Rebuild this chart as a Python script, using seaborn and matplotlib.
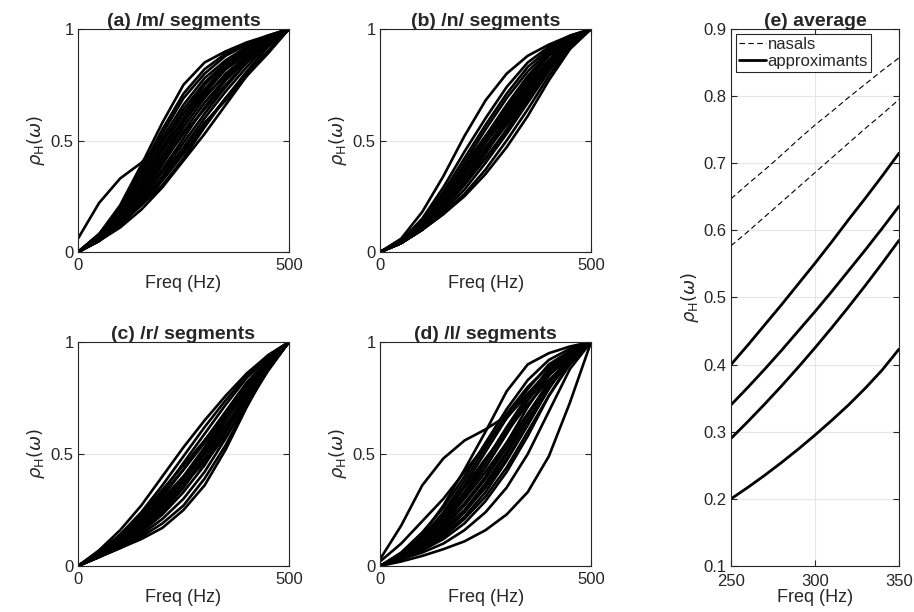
import pandas as pd
import seaborn as sns
import matplotlib.pyplot as plt
from matplotlib.lines import Line2D

# sample frequencies for the segment curves (Hz)
freq = [0, 50, 100, 150, 200, 250, 300, 350, 400, 450, 500]

m_curves = [
    [0.06, 0.22, 0.33, 0.40, 0.50, 0.62, 0.73, 0.82, 0.89, 0.95, 1.0],
    [0.0, 0.08, 0.21, 0.39, 0.58, 0.75, 0.85, 0.90, 0.94, 0.97, 1.0],
    [0.0, 0.08, 0.20, 0.37, 0.55, 0.71, 0.82, 0.89, 0.93, 0.97, 1.0],
    [0.0, 0.07, 0.19, 0.35, 0.53, 0.69, 0.80, 0.88, 0.93, 0.97, 1.0],
    [0.0, 0.07, 0.18, 0.34, 0.51, 0.66, 0.78, 0.86, 0.92, 0.96, 1.0],
    [0.0, 0.07, 0.17, 0.32, 0.49, 0.64, 0.76, 0.85, 0.91, 0.96, 1.0],
    [0.0, 0.06, 0.16, 0.30, 0.47, 0.62, 0.75, 0.84, 0.91, 0.96, 1.0],
    [0.0, 0.06, 0.16, 0.29, 0.45, 0.60, 0.73, 0.83, 0.90, 0.95, 1.0],
    [0.0, 0.06, 0.15, 0.28, 0.43, 0.58, 0.71, 0.82, 0.89, 0.95, 1.0],
    [0.0, 0.06, 0.14, 0.26, 0.41, 0.56, 0.69, 0.80, 0.88, 0.95, 1.0],
    [0.0, 0.05, 0.14, 0.25, 0.39, 0.54, 0.67, 0.78, 0.87, 0.94, 1.0],
    [0.0, 0.05, 0.13, 0.24, 0.37, 0.51, 0.65, 0.77, 0.86, 0.94, 1.0],
    [0.0, 0.05, 0.12, 0.23, 0.36, 0.49, 0.62, 0.74, 0.85, 0.93, 1.0],
    [0.0, 0.05, 0.12, 0.22, 0.34, 0.47, 0.60, 0.72, 0.83, 0.93, 1.0],
    [0.0, 0.06, 0.15, 0.27, 0.40, 0.53, 0.64, 0.75, 0.85, 0.93, 1.0],
    [0.0, 0.06, 0.16, 0.31, 0.46, 0.59, 0.70, 0.79, 0.87, 0.94, 1.0],
    [0.0, 0.05, 0.13, 0.26, 0.42, 0.58, 0.72, 0.83, 0.90, 0.95, 1.0],
    [0.0, 0.05, 0.12, 0.21, 0.32, 0.44, 0.57, 0.69, 0.81, 0.92, 1.0],
    [0.0, 0.05, 0.11, 0.19, 0.29, 0.41, 0.53, 0.66, 0.79, 0.90, 1.0],
    [0.0, 0.06, 0.13, 0.21, 0.30, 0.42, 0.56, 0.69, 0.80, 0.90, 1.0],
    [0.0, 0.08, 0.17, 0.26, 0.36, 0.46, 0.58, 0.68, 0.79, 0.89, 1.0],
    [0.0, 0.06, 0.14, 0.23, 0.33, 0.45, 0.57, 0.69, 0.80, 0.90, 1.0],
]

n_curves = [
    [0.0, 0.06, 0.18, 0.34, 0.52, 0.68, 0.80, 0.88, 0.93, 0.97, 1.0],
    [0.0, 0.05, 0.15, 0.29, 0.45, 0.60, 0.74, 0.85, 0.92, 0.97, 1.0],
    [0.0, 0.05, 0.14, 0.27, 0.42, 0.57, 0.71, 0.83, 0.91, 0.96, 1.0],
    [0.0, 0.05, 0.13, 0.25, 0.40, 0.55, 0.69, 0.81, 0.90, 0.96, 1.0],
    [0.0, 0.04, 0.12, 0.24, 0.38, 0.52, 0.66, 0.79, 0.89, 0.96, 1.0],
    [0.0, 0.04, 0.12, 0.23, 0.36, 0.50, 0.64, 0.77, 0.88, 0.95, 1.0],
    [0.0, 0.04, 0.11, 0.22, 0.35, 0.49, 0.62, 0.75, 0.86, 0.95, 1.0],
    [0.0, 0.05, 0.13, 0.24, 0.37, 0.49, 0.61, 0.73, 0.84, 0.94, 1.0],
    [0.0, 0.04, 0.11, 0.21, 0.33, 0.46, 0.60, 0.74, 0.86, 0.95, 1.0],
    [0.0, 0.04, 0.10, 0.20, 0.31, 0.44, 0.58, 0.72, 0.85, 0.95, 1.0],
    [0.0, 0.04, 0.10, 0.19, 0.30, 0.42, 0.55, 0.69, 0.83, 0.94, 1.0],
    [0.0, 0.04, 0.10, 0.18, 0.28, 0.40, 0.53, 0.67, 0.81, 0.93, 1.0],
    [0.0, 0.04, 0.10, 0.17, 0.26, 0.37, 0.50, 0.64, 0.79, 0.92, 1.0],
    [0.0, 0.04, 0.10, 0.17, 0.25, 0.35, 0.47, 0.61, 0.77, 0.91, 1.0],
    [0.0, 0.05, 0.12, 0.21, 0.31, 0.42, 0.54, 0.68, 0.82, 0.94, 1.0],
    [0.0, 0.05, 0.14, 0.26, 0.39, 0.52, 0.64, 0.76, 0.86, 0.94, 1.0],
    [0.0, 0.04, 0.11, 0.22, 0.36, 0.51, 0.65, 0.78, 0.88, 0.95, 1.0],
    [0.0, 0.05, 0.12, 0.22, 0.33, 0.45, 0.57, 0.70, 0.82, 0.93, 1.0],
    [0.0, 0.05, 0.13, 0.25, 0.38, 0.51, 0.63, 0.75, 0.86, 0.95, 1.0],
    [0.0, 0.04, 0.11, 0.20, 0.32, 0.45, 0.59, 0.73, 0.85, 0.94, 1.0],
    [0.0, 0.05, 0.13, 0.23, 0.35, 0.47, 0.59, 0.71, 0.83, 0.93, 1.0],
]

r_curves = [
    [0.0, 0.07, 0.16, 0.27, 0.40, 0.53, 0.65, 0.76, 0.86, 0.94, 1.0],
    [0.0, 0.06, 0.14, 0.24, 0.36, 0.49, 0.62, 0.74, 0.85, 0.94, 1.0],
    [0.0, 0.06, 0.13, 0.22, 0.33, 0.46, 0.59, 0.72, 0.84, 0.93, 1.0],
    [0.0, 0.05, 0.12, 0.21, 0.31, 0.43, 0.56, 0.69, 0.82, 0.92, 1.0],
    [0.0, 0.05, 0.11, 0.19, 0.29, 0.40, 0.53, 0.67, 0.80, 0.91, 1.0],
    [0.0, 0.05, 0.11, 0.18, 0.27, 0.38, 0.51, 0.65, 0.79, 0.91, 1.0],
    [0.0, 0.05, 0.10, 0.17, 0.25, 0.35, 0.48, 0.62, 0.77, 0.90, 1.0],
    [0.0, 0.04, 0.09, 0.15, 0.23, 0.33, 0.45, 0.60, 0.75, 0.89, 1.0],
    [0.0, 0.04, 0.09, 0.14, 0.21, 0.30, 0.42, 0.57, 0.73, 0.88, 1.0],
    [0.0, 0.04, 0.08, 0.13, 0.19, 0.27, 0.39, 0.54, 0.72, 0.88, 1.0],
    [0.0, 0.04, 0.08, 0.12, 0.17, 0.25, 0.36, 0.52, 0.71, 0.88, 1.0],
    [0.0, 0.05, 0.10, 0.16, 0.24, 0.35, 0.50, 0.66, 0.81, 0.92, 1.0],
    [0.0, 0.06, 0.13, 0.21, 0.30, 0.40, 0.51, 0.63, 0.76, 0.89, 1.0],
    [0.0, 0.05, 0.11, 0.18, 0.26, 0.36, 0.47, 0.60, 0.74, 0.88, 1.0],
    [0.0, 0.04, 0.09, 0.16, 0.25, 0.37, 0.52, 0.67, 0.80, 0.91, 1.0],
    [0.0, 0.05, 0.12, 0.20, 0.28, 0.37, 0.46, 0.58, 0.72, 0.87, 1.0],
    [0.0, 0.06, 0.14, 0.23, 0.34, 0.45, 0.56, 0.68, 0.80, 0.91, 1.0],
    [0.0, 0.05, 0.11, 0.19, 0.28, 0.39, 0.50, 0.62, 0.75, 0.88, 1.0],
    [0.0, 0.05, 0.10, 0.17, 0.26, 0.38, 0.52, 0.65, 0.78, 0.90, 1.0],
    [0.0, 0.06, 0.13, 0.22, 0.32, 0.43, 0.55, 0.67, 0.79, 0.90, 1.0],
]

l_curves = [
    [0.03, 0.18, 0.36, 0.48, 0.56, 0.61, 0.67, 0.76, 0.86, 0.94, 1.0],
    [0.0, 0.05, 0.14, 0.27, 0.43, 0.60, 0.78, 0.90, 0.95, 0.98, 1.0],
    [0.0, 0.06, 0.15, 0.26, 0.40, 0.55, 0.70, 0.83, 0.92, 0.97, 1.0],
    [0.0, 0.05, 0.13, 0.23, 0.36, 0.51, 0.66, 0.79, 0.90, 0.96, 1.0],
    [0.0, 0.05, 0.12, 0.21, 0.33, 0.47, 0.62, 0.76, 0.88, 0.96, 1.0],
    [0.0, 0.04, 0.11, 0.20, 0.31, 0.44, 0.59, 0.74, 0.87, 0.95, 1.0],
    [0.0, 0.04, 0.10, 0.18, 0.28, 0.40, 0.55, 0.71, 0.85, 0.95, 1.0],
    [0.0, 0.04, 0.09, 0.16, 0.25, 0.37, 0.51, 0.67, 0.82, 0.94, 1.0],
    [0.0, 0.03, 0.08, 0.14, 0.22, 0.33, 0.47, 0.63, 0.80, 0.93, 1.0],
    [0.0, 0.03, 0.07, 0.12, 0.19, 0.29, 0.42, 0.58, 0.76, 0.91, 1.0],
    [0.0, 0.03, 0.06, 0.10, 0.16, 0.24, 0.35, 0.50, 0.69, 0.88, 1.0],
    [0.0, 0.02, 0.045, 0.075, 0.11, 0.16, 0.23, 0.33, 0.49, 0.73, 1.0],
    [0.0, 0.03, 0.07, 0.13, 0.21, 0.31, 0.44, 0.60, 0.76, 0.90, 1.0],
    [0.0, 0.04, 0.10, 0.19, 0.30, 0.42, 0.55, 0.68, 0.80, 0.91, 1.0],
    [0.0, 0.05, 0.12, 0.22, 0.35, 0.48, 0.60, 0.72, 0.83, 0.92, 1.0],
    [0.0, 0.04, 0.09, 0.15, 0.24, 0.35, 0.48, 0.63, 0.79, 0.93, 1.0],
    [0.0, 0.05, 0.13, 0.24, 0.38, 0.53, 0.68, 0.80, 0.89, 0.95, 1.0],
    [0.02, 0.10, 0.20, 0.30, 0.42, 0.54, 0.66, 0.77, 0.87, 0.95, 1.0],
    [0.0, 0.04, 0.10, 0.17, 0.27, 0.39, 0.53, 0.68, 0.82, 0.93, 1.0],
    [0.0, 0.03, 0.08, 0.15, 0.24, 0.36, 0.50, 0.65, 0.80, 0.92, 1.0],
    [0.0, 0.05, 0.11, 0.20, 0.32, 0.46, 0.61, 0.74, 0.85, 0.94, 1.0],
]

# zoomed averages, panel (e)
avg_freq = [250, 260, 270, 280, 290, 300, 310, 320, 330, 340, 350]
nasal_avg = [
    [0.647, 0.669, 0.690, 0.712, 0.735, 0.757, 0.777, 0.798, 0.818, 0.838, 0.857],
    [0.577, 0.598, 0.620, 0.642, 0.664, 0.686, 0.708, 0.730, 0.752, 0.773, 0.795],
]
approx_avg = [
    [0.400, 0.429, 0.459, 0.489, 0.520, 0.551, 0.583, 0.616, 0.648, 0.681, 0.715],
    [0.340, 0.366, 0.393, 0.421, 0.450, 0.479, 0.509, 0.540, 0.571, 0.603, 0.636],
    [0.290, 0.315, 0.341, 0.368, 0.396, 0.425, 0.455, 0.486, 0.518, 0.551, 0.585],
    [0.200, 0.217, 0.235, 0.254, 0.274, 0.295, 0.317, 0.340, 0.365, 0.392, 0.423],
]

titles = ["(a) /m/ segments", "(b) /n/ segments", "(c) /r/ segments", "(d) /l/ segments"]
ylabel = r"$\rho_{\mathrm{H}}(\omega)$"

TICK_FS = 12
LABEL_FS = 13
TITLE_FS = 14


def to_long(curves, x):
    rows = []
    for i, c in enumerate(curves):
        for f, v in zip(x, c):
            rows.append((i, f, v))
    return pd.DataFrame(rows, columns=["seg", "freq", "rho"])


def style_axes(ax):
    ax.tick_params(direction="in", top=True, right=True, length=4,
                   labelsize=TICK_FS, colors="#262626", width=0.8)
    ax.tick_params(axis="x", pad=4)
    ax.tick_params(axis="y", pad=3)
    for s in ax.spines.values():
        s.set_visible(True)
        s.set_color("#262626")
        s.set_linewidth(0.8)
    ax.grid(True, color="#e6e6e6", linewidth=0.8)
    ax.set_axisbelow(True)


sns.set_style("ticks")
plt.rcParams["font.family"] = ["Liberation Sans", "DejaVu Sans"]

fig = plt.figure(figsize=(9.14, 6.12), dpi=100)
positions = [
    [0.0853, 0.5882, 0.2309, 0.3644],
    [0.4158, 0.5882, 0.2309, 0.3644],
    [0.0853, 0.0752, 0.2309, 0.3660],
    [0.4158, 0.0752, 0.2309, 0.3660],
]

for pos, curves, title in zip(positions, [m_curves, n_curves, r_curves, l_curves], titles):
    ax = fig.add_axes(pos)
    df = to_long(curves, freq)
    sns.lineplot(data=df, x="freq", y="rho", units="seg", estimator=None,
                 color="black", linewidth=1.9, ax=ax, legend=False)
    ax.set_xlim(0, 500)
    ax.set_ylim(0, 1)
    ax.set_xticks([0, 500])
    ax.set_yticks([0, 0.5, 1])
    ax.set_yticklabels(["0", "0.5", "1"])
    ax.set_xlabel("Freq (Hz)", fontsize=LABEL_FS, color="#262626", labelpad=2)
    ax.set_ylabel(ylabel, fontsize=LABEL_FS, color="#262626", labelpad=3)
    ax.set_title(title, fontsize=TITLE_FS, fontweight="bold", pad=2)
    style_axes(ax)

# panel (e)
axe = fig.add_axes([0.7998, 0.0752, 0.1838, 0.8775])
sns.lineplot(data=to_long(nasal_avg, avg_freq), x="freq", y="rho", units="seg",
             estimator=None, color="black", linewidth=0.8, linestyle=(0, (5, 3)),
             ax=axe, legend=False)
sns.lineplot(data=to_long(approx_avg, avg_freq), x="freq", y="rho", units="seg",
             estimator=None, color="black", linewidth=2.0, ax=axe, legend=False)
axe.set_xlim(250, 350)
axe.set_ylim(0.1, 0.9)
axe.set_xticks([250, 300, 350])
axe.set_yticks([0.1, 0.2, 0.3, 0.4, 0.5, 0.6, 0.7, 0.8, 0.9])
axe.set_xlabel("Freq (Hz)", fontsize=LABEL_FS, color="#262626", labelpad=0)
axe.set_ylabel(ylabel, fontsize=LABEL_FS, color="#262626", labelpad=2)
axe.set_title("(e) average", fontsize=TITLE_FS, fontweight="bold", pad=2)
style_axes(axe)
axe.tick_params(axis="x", pad=6)

handles = [
    Line2D([], [], color="black", linewidth=0.8, linestyle=(0, (5, 3))),
    Line2D([], [], color="black", linewidth=2.0),
]
leg = axe.legend(handles, ["nasals", "approximants"], loc="upper left",
                 fontsize=12, frameon=True, fancybox=False, handlelength=1.6,
                 handletextpad=0.1, borderpad=0.2, labelspacing=0.1,
                 borderaxespad=0.3)
leg.get_frame().set_edgecolor("#262626")
leg.get_frame().set_linewidth(0.8)
leg.get_frame().set_alpha(1)

fig.savefig("out.png", dpi=100)
